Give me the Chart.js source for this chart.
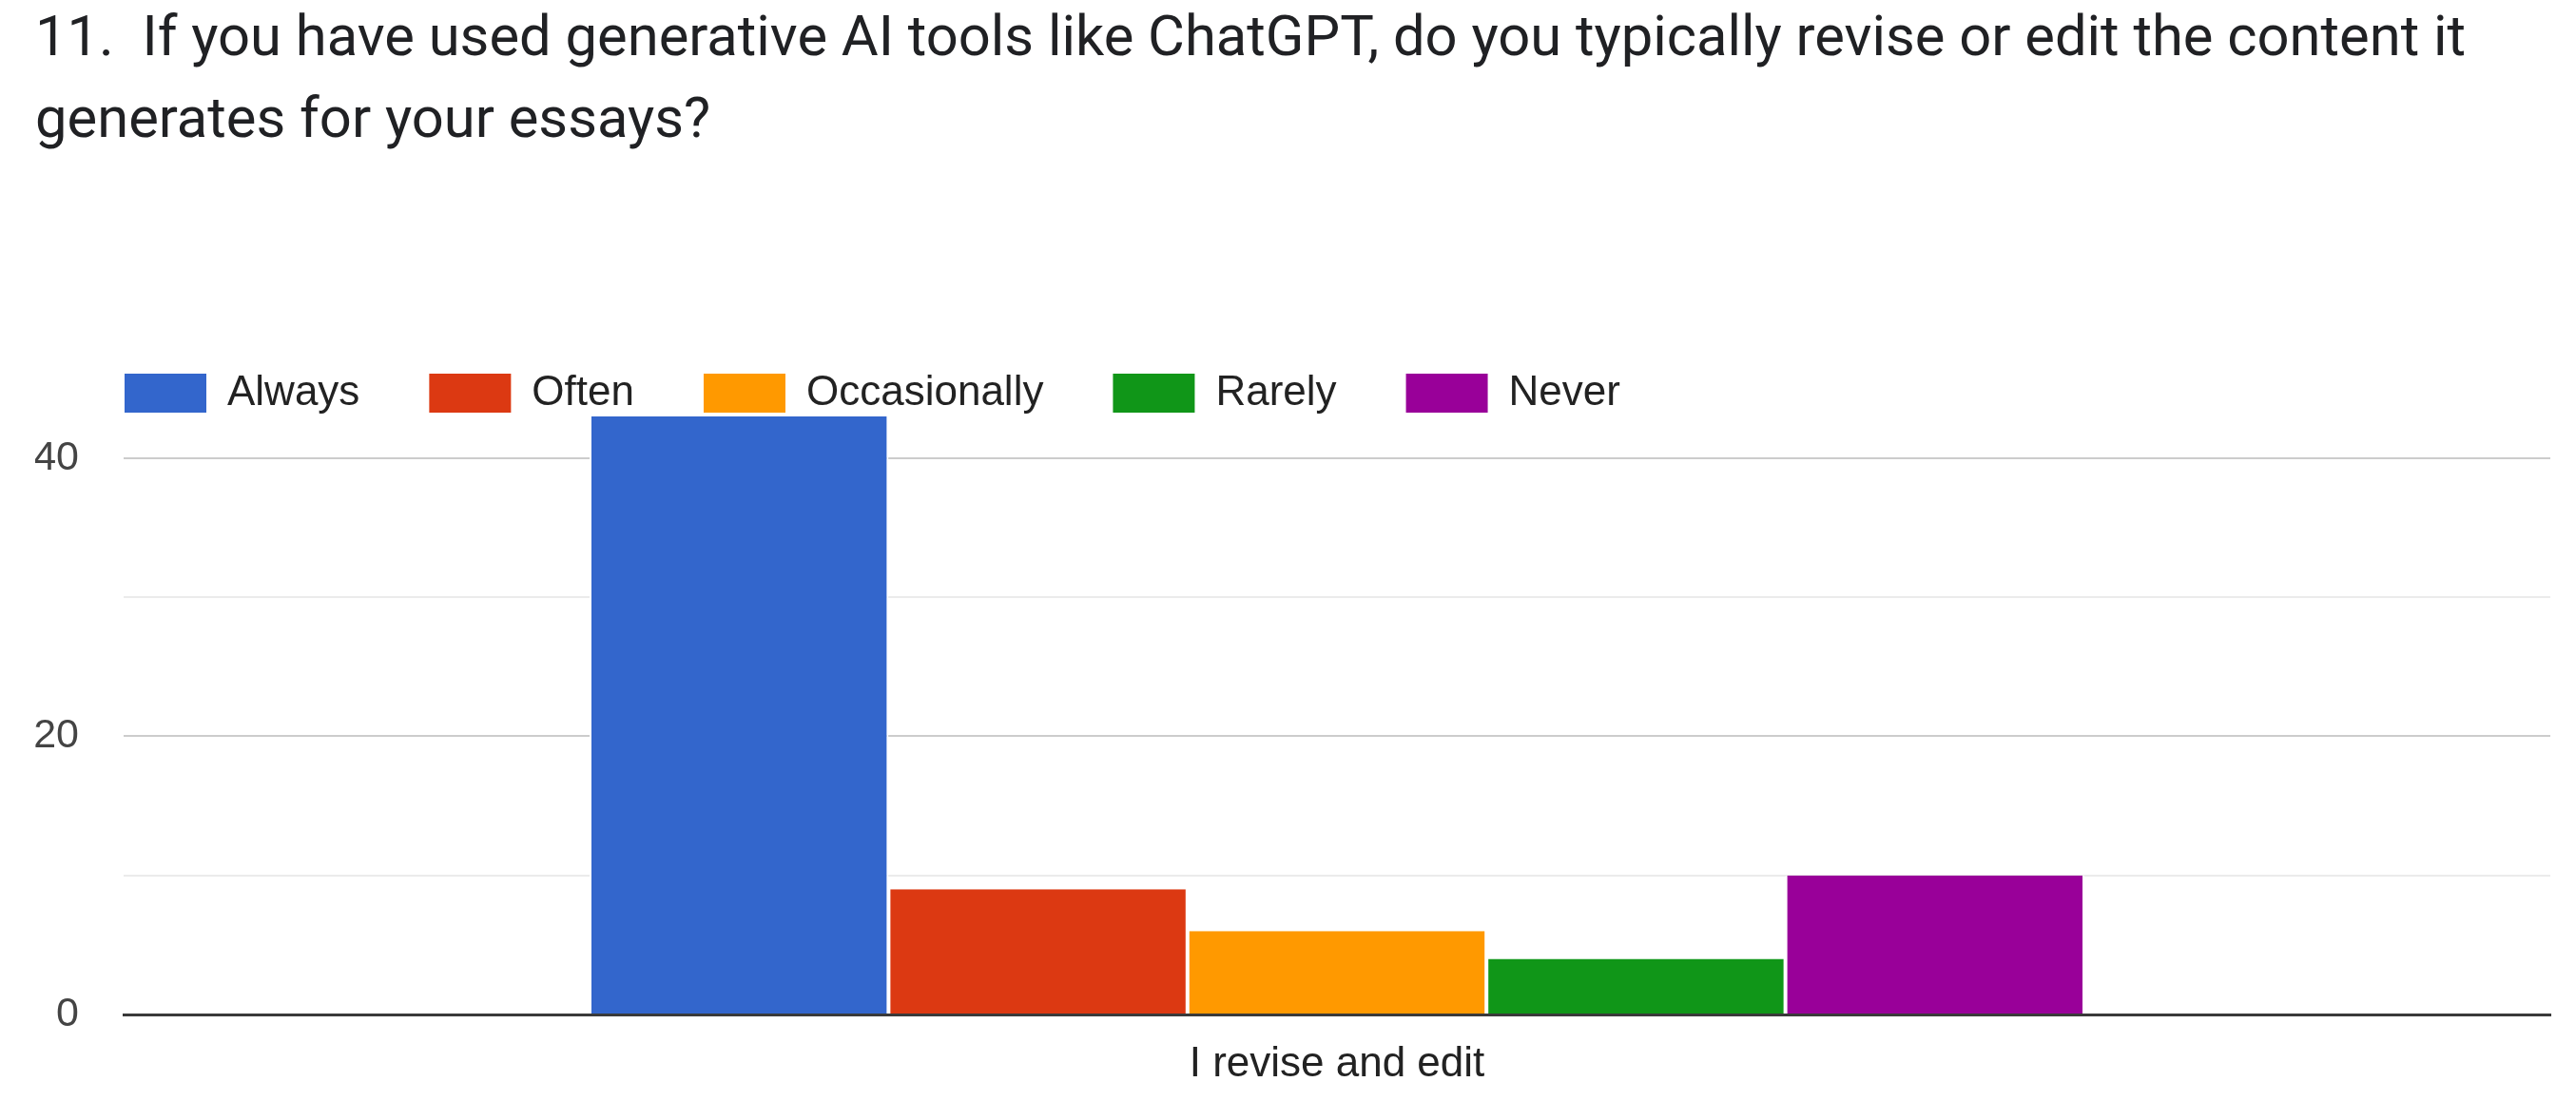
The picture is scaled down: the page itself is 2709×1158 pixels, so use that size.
<!DOCTYPE html>
<html>
<head>
<meta charset="utf-8">
<script src="https://cdn.jsdelivr.net/npm/chart.js@4.4.1/dist/chart.umd.min.js"></script>
<style>
  html, body { margin: 0; padding: 0; background: #ffffff; }
  #wrap { width: 2709px; height: 1158px; position: relative; }
</style>
</head>
<body>
<div id="wrap"><canvas id="c"></canvas></div>
<script>
// ---- data ----
const titleLines = [
  '11.  If you have used generative AI tools like ChatGPT, do you typically revise or edit the content it',
  'generates for your essays?'
];
const categories = ['I revise and edit'];
const seriesNames = ['Always', 'Often', 'Occasionally', 'Rarely', 'Never'];
const always = [43];
const often = [9];
const occasionally = [6];
const rarely = [4];
const never = [10];
const yTickLabels = [0, 20, 40];
const seriesColors = ['#3366cc', '#dc3912', '#ff9900', '#109618', '#990099'];

const seriesValues = [always, often, occasionally, rarely, never];
const yMax = Math.max(...seriesValues.flat());

const datasets = seriesNames.map((name, i) => ({
  label: name,
  data: seriesValues[i],
  backgroundColor: seriesColors[i],
  borderColor: '#ffffff',
  borderWidth: { left: 2, right: 2, top: 0, bottom: 0 },
  categoryPercentage: 0.616,
  barPercentage: 1.0
}));

const legendShift = {
  id: 'legendShift',
  afterLayout(chart) {
    const lg = chart.legend;
    if (lg) {
      const pad = lg.options.labels.padding;
      lg.left = 131 - pad;
    }
  }
};

new Chart(document.getElementById('c'), {
  type: 'bar',
  data: { labels: categories, datasets },
  plugins: [legendShift],
  options: {
    responsive: true,
    maintainAspectRatio: false,
    animation: false,
    layout: { padding: { left: 37, right: 27, top: 0, bottom: -15 } },
    plugins: {
      title: {
        display: true,
        text: titleLines,
        align: 'start',
        color: '#202124',
        font: { family: 'Roboto', size: 59.7, weight: '400', lineHeight: 86 / 59.7 },
        padding: { top: 0, bottom: 146.5 }
      },
      legend: {
        display: true,
        position: 'top',
        align: 'start',
        maxHeight: 119.5,
        labels: {
          boxWidth: 86,
          boxHeight: 41,
          padding: 73,
          color: '#222222',
          font: { family: 'Liberation Sans', size: 44 },
          generateLabels(chart) {
            const items = Chart.defaults.plugins.legend.labels.generateLabels(chart);
            items.forEach(it => { it.lineWidth = 0; it.strokeStyle = it.fillStyle; });
            return items;
          }
        }
      },
      tooltip: { enabled: false }
    },
    scales: {
      x: {
        grid: { display: false, drawTicks: false },
        border: { display: true, color: '#3a3a3a', width: 3 },
        ticks: {
          color: '#222222',
          padding: 31,
          font: { family: 'Liberation Sans', size: 44, lineHeight: 1.0 }
        }
      },
      y: {
        min: 0,
        max: yMax,
        afterFit(scale) { scale.width = 93; },
        border: { display: false },
        grid: {
          drawTicks: false,
          lineWidth: 2,
          color(ctx) {
            const v = ctx.tick ? ctx.tick.value : null;
            if (v === null || v === 0) return 'rgba(0,0,0,0)';
            if (v % 20 === 0) return '#cccccc';
            if (v % 10 === 0) return '#ebebeb';
            return 'rgba(0,0,0,0)';
          }
        },
        ticks: {
          stepSize: 10,
          includeBounds: false,
          padding: 47,
          color: '#444444',
          font: { family: 'Liberation Sans', size: 43 },
          callback(v) { return yTickLabels.includes(v) ? String(v) : ''; }
        }
      }
    }
  }
});
</script>
</body>
</html>
